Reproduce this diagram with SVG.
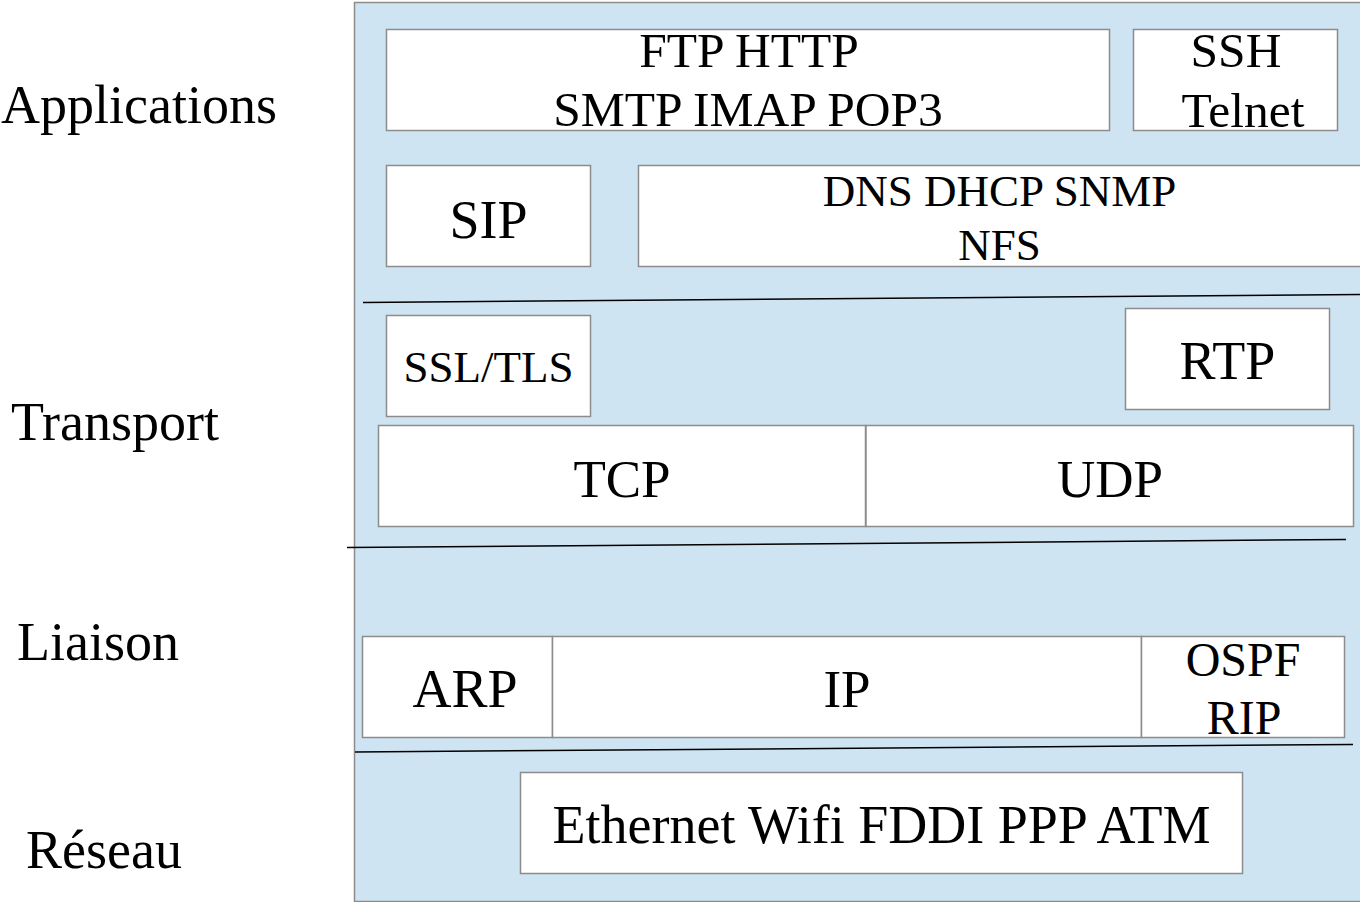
<svg xmlns="http://www.w3.org/2000/svg" width="1360" height="902" viewBox="0 0 1360 902">
<style>
.bg{fill:#cfe4f2;stroke:#8c8c8c;stroke-width:1.5}
.box{fill:#ffffff;stroke:#8c8c8c;stroke-width:1.5}
.sep{stroke:#000;stroke-width:1.5;fill:none}
text{font-family:"Liberation Serif","Times New Roman",serif;fill:#000;text-anchor:middle}
.lbl{font-size:54px;text-anchor:start}
.t54{font-size:54px}
.t53{font-size:53px}
.t49{font-size:49.5px}
.t48{font-size:48px}
.t45{font-size:45px}
</style>
<rect fill="#ffffff" x="0" y="0" width="1360" height="902"/>
<rect class="bg" x="354.5" y="2.5" width="1010" height="899"/>
<g id="labels">
<text class="lbl" x="1" y="123">Applications</text>
<text class="lbl" x="11" y="440">Transport</text>
<text class="lbl" x="17" y="660">Liaison</text>
<text class="lbl" x="26" y="868">Réseau</text>
</g>
<g id="connectors">
<line class="sep" x1="363" y1="302.5" x2="1360" y2="294.5"/>
<line class="sep" x1="347" y1="547.5" x2="1346" y2="539.5"/>
<line class="sep" x1="355" y1="752" x2="1353" y2="744.5"/>
</g>
<g id="ftp">
<rect class="box" x="386.5" y="29.5" width="723" height="101"/>
<text class="t49" x="749" y="67">FTP HTTP</text>
<text class="t49" x="748" y="126">SMTP IMAP POP3</text>
</g>
<g id="ssh">
<rect class="box" x="1133.5" y="29.5" width="204" height="101"/>
<text class="t49" x="1236" y="67">SSH</text>
<text class="t49" x="1243" y="127">Telnet</text>
</g>
<g id="sip">
<rect class="box" x="386.5" y="165.5" width="204" height="101"/>
<text class="t54" x="488.5" y="238">SIP</text>
</g>
<g id="dns">
<rect class="box" x="638.5" y="165.5" width="740" height="101"/>
<text class="t45" x="999.5" y="206">DNS DHCP SNMP</text>
<text class="t45" x="999.5" y="260">NFS</text>
</g>
<g id="ssl">
<rect class="box" x="386.5" y="315.5" width="204" height="101"/>
<text class="t45" x="488.5" y="382">SSL/TLS</text>
</g>
<g id="rtp">
<rect class="box" x="1125.5" y="308.5" width="204" height="101"/>
<text class="t54" x="1227.5" y="379">RTP</text>
</g>
<g id="tcp">
<rect class="box" x="378.5" y="425.5" width="487" height="101"/>
<text class="t53" x="622" y="497">TCP</text>
</g>
<g id="udp">
<rect class="box" x="866" y="425.5" width="487.5" height="101"/>
<text class="t53" x="1110" y="497">UDP</text>
</g>
<g id="arp">
<rect class="box" x="362.5" y="636.5" width="190" height="101"/>
<text class="t54" x="465" y="707">ARP</text>
</g>
<g id="ip">
<rect class="box" x="552.5" y="636.5" width="589" height="101"/>
<text class="t53" x="847" y="707">IP</text>
</g>
<g id="ospf">
<rect class="box" x="1141.5" y="636.5" width="203" height="101"/>
<text class="t48" x="1243" y="676">OSPF</text>
<text class="t48" x="1244" y="734">RIP</text>
</g>
<g id="ethernet">
<rect class="box" x="520.5" y="772.5" width="722" height="101"/>
<text class="t54" x="881.5" y="843">Ethernet Wifi FDDI PPP ATM</text>
</g>
</svg>
